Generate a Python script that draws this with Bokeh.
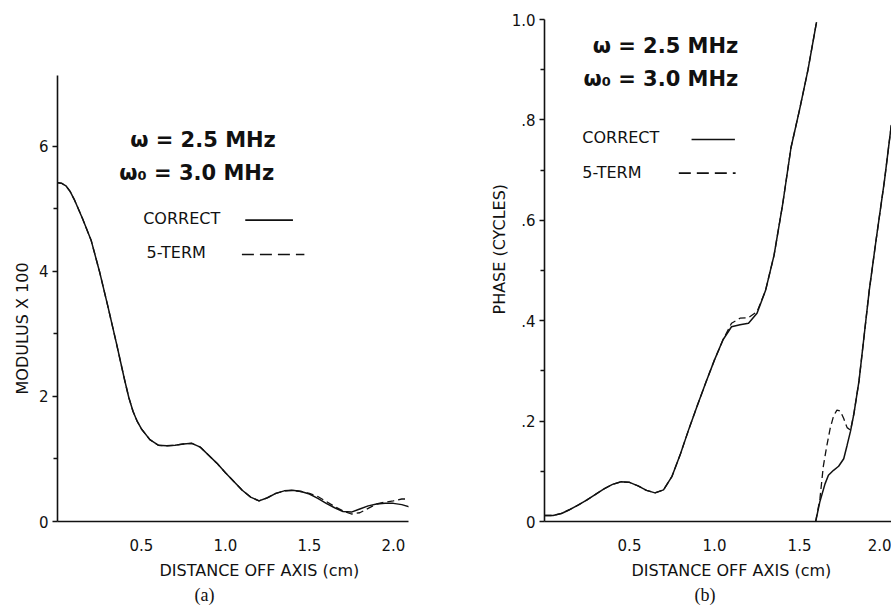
from bokeh.plotting import figure
from bokeh.layouts import row
from bokeh.models import Label, Arrow, FixedTicker, Range1d, CustomJSTickFormatter, Title
from bokeh.embed import file_html
from bokeh.resources import INLINE

# ---------------- data: panel (a) modulus ----------------
dist_a = [0, 0.025, 0.05, 0.075, 0.1, 0.15, 0.2, 0.25, 0.3, 0.35, 0.4, 0.425, 0.45, 0.475,
          0.5, 0.55, 0.6, 0.65, 0.7, 0.75, 0.8, 0.85, 0.9, 0.95, 1.0, 1.05, 1.1, 1.15,
          1.2, 1.25, 1.3, 1.35, 1.4, 1.45, 1.5, 1.55, 1.6, 1.65, 1.7, 1.75, 1.8, 1.85,
          1.9, 1.95, 2.0, 2.05, 2.1]
modulus_correct = [5.42, 5.41, 5.37, 5.28, 5.15, 4.84, 4.50, 4.00, 3.44, 2.86, 2.26, 1.98,
                   1.76, 1.60, 1.48, 1.31, 1.22, 1.21, 1.22, 1.24, 1.25, 1.19, 1.06, 0.93,
                   0.78, 0.64, 0.50, 0.39, 0.33, 0.38, 0.45, 0.49, 0.50, 0.48, 0.44, 0.37,
                   0.29, 0.22, 0.16, 0.15, 0.20, 0.25, 0.28, 0.29, 0.29, 0.27, 0.23]
modulus_5term = [5.42, 5.41, 5.37, 5.28, 5.15, 4.84, 4.50, 4.00, 3.44, 2.86, 2.26, 1.98,
                 1.76, 1.60, 1.48, 1.31, 1.22, 1.21, 1.22, 1.24, 1.25, 1.19, 1.06, 0.93,
                 0.78, 0.64, 0.50, 0.39, 0.33, 0.38, 0.45, 0.49, 0.50, 0.48, 0.45, 0.40,
                 0.32, 0.24, 0.17, 0.12, 0.14, 0.21, 0.28, 0.31, 0.33, 0.36, 0.36]

# ---------------- data: panel (b) phase ----------------
dist_b1 = [0, 0.05, 0.1, 0.15, 0.2, 0.25, 0.3, 0.35, 0.4, 0.45, 0.5, 0.55, 0.6, 0.65,
           0.7, 0.75, 0.8, 0.85, 0.9, 0.95, 1.0, 1.05, 1.1, 1.15, 1.2, 1.25, 1.3, 1.35,
           1.4, 1.45, 1.5, 1.55, 1.6]
phase1_correct = [0.012, 0.012, 0.016, 0.024, 0.033, 0.043, 0.054, 0.065, 0.074, 0.079,
                  0.078, 0.071, 0.062, 0.057, 0.063, 0.090, 0.135, 0.185, 0.232, 0.278,
                  0.322, 0.362, 0.388, 0.392, 0.395, 0.415, 0.46, 0.53, 0.63, 0.745,
                  0.82, 0.90, 0.995]
phase1_5term = [0.012, 0.012, 0.016, 0.024, 0.033, 0.043, 0.054, 0.065, 0.074, 0.079,
                0.078, 0.071, 0.062, 0.057, 0.063, 0.090, 0.135, 0.185, 0.232, 0.278,
                0.322, 0.362, 0.395, 0.405, 0.406, 0.418, 0.46, 0.53, 0.63, 0.745,
                0.82, 0.90, 0.995]
dist_b2 = [1.595, 1.62, 1.65, 1.67, 1.70, 1.73, 1.76, 1.78, 1.80, 1.82, 1.85, 1.88,
           1.91, 1.95, 2.0, 2.04]
phase2_correct = [0.0, 0.04, 0.075, 0.092, 0.102, 0.110, 0.125, 0.152, 0.180, 0.215,
                  0.28, 0.37, 0.46, 0.56, 0.68, 0.79]
dist_b2_5term = [1.595, 1.62, 1.64, 1.66, 1.68, 1.70, 1.72, 1.74, 1.76, 1.78, 1.80,
                 1.82, 1.85, 1.88, 1.91, 1.95, 2.0, 2.04]
phase2_5term = [0.0, 0.045, 0.11, 0.15, 0.185, 0.21, 0.222, 0.22, 0.205, 0.187, 0.182,
                0.215, 0.28, 0.37, 0.46, 0.56, 0.68, 0.79]

FONT = "DejaVu Sans"
SERIF = "Liberation Serif"
INK = "#111111"
H = 605
FRAME_BOTTOM = 521


def style(p):
    p.grid.visible = False
    p.outline_line_color = None
    p.background_fill_color = "white"
    p.border_fill_color = "white"
    for ax in (p.xaxis[0], p.yaxis[0]):
        ax.axis_line_color = INK
        ax.axis_line_width = 1.6
        ax.major_label_text_font = FONT
        ax.major_label_text_font_size = "15px"
        ax.major_label_text_color = INK
    xa = p.xaxis[0]
    xa.major_tick_out = 0
    xa.major_tick_in = 0
    xa.minor_tick_out = 0
    xa.minor_tick_in = 0
    xa.major_label_standoff = 17
    xa.formatter = CustomJSTickFormatter(code="return tick.toFixed(1);")
    xa.ticker = FixedTicker(ticks=[0.5, 1.0, 1.5, 2.0])
    ya = p.yaxis[0]
    ya.major_tick_out = 5
    ya.major_tick_in = 0
    ya.minor_tick_out = 4
    ya.minor_tick_in = 0
    ya.major_tick_line_color = INK
    ya.minor_tick_line_color = INK
    ya.major_tick_line_width = 1.4
    ya.minor_tick_line_width = 1.4
    ya.major_label_standoff = 4


def text(p, x, y, s, size="15px", align="left", font=FONT, style_="normal"):
    p.add_layout(Label(x=x, y=y, text=s, text_font=font, text_font_size=size,
                       text_align=align, text_baseline="middle",
                       text_color=INK, text_font_style=style_))


def title(p, s, side, offset, standoff, size="16px", font=FONT):
    p.add_layout(Title(text=s, align="left", offset=offset, standoff=standoff,
                       text_font=font, text_font_size=size, text_font_style="normal",
                       text_color=INK), side)


# ---------------- panel (a) ----------------
pa = figure(width=453, height=H, x_range=Range1d(0, 2.09), y_range=Range1d(0, 8.03),
            output_backend="svg", toolbar_location=None,
            min_border_left=57, min_border_right=45, min_border_top=19,
            min_border_bottom=H - FRAME_BOTTOM)
style(pa)
pa.yaxis[0].bounds = (0, 7.14)
pa.yaxis[0].ticker = FixedTicker(ticks=[0, 2, 4, 6], minor_ticks=[1, 3, 5])
pa.line(dist_a, modulus_correct, line_color=INK, line_width=1.5)
pa.line(dist_a, modulus_5term, line_color=INK, line_width=1.3, line_dash="7 4")

text(pa, 1.30, 6.11, "ω = 2.5 MHz", size="21px", align="right", style_="bold")
text(pa, 1.29, 5.58, "ω₀ = 3.0 MHz", size="21px", align="right", style_="bold")
text(pa, 0.51, 4.84, "CORRECT", size="16px")
text(pa, 0.53, 4.30, "5-TERM", size="16px")
pa.add_layout(Arrow(end=None, x_start=1.118, y_start=4.82, x_end=1.402, y_end=4.82,
                    line_color=INK, line_width=1.6))
pa.add_layout(Arrow(end=None, x_start=1.098, y_start=4.27, x_end=1.47, y_end=4.27,
                    line_color=INK, line_width=1.6, line_dash="12 6"))
title(pa, "DISTANCE OFF AXIS (cm)", "below", 102, 10)
title(pa, "(a)", "below", 137, -4, size="18px", font=SERIF)
title(pa, "MODULUS X 100", "left", 127, 7)

# ---------------- panel (b) ----------------
pb = figure(width=438, height=H, x_range=Range1d(0, 2.041), y_range=Range1d(0, 1.0),
            output_backend="svg", toolbar_location=None,
            min_border_left=91, min_border_right=0, min_border_top=19,
            min_border_bottom=H - FRAME_BOTTOM)
style(pb)
pb.yaxis[0].ticker = FixedTicker(ticks=[0, 0.2, 0.4, 0.6, 0.8, 1.0],
                                 minor_ticks=[0.1, 0.3, 0.5, 0.7, 0.9])
pb.yaxis[0].formatter = CustomJSTickFormatter(
    code="if (tick == 0) return '0'; if (tick >= 1) return tick.toFixed(1); "
         "return tick.toFixed(1).replace(/^0/, '');")
pb.line(dist_b1, phase1_correct, line_color=INK, line_width=1.5)
pb.line(dist_b1, phase1_5term, line_color=INK, line_width=1.3, line_dash="7 4")
pb.line(dist_b2, phase2_correct, line_color=INK, line_width=1.5)
pb.line(dist_b2_5term, phase2_5term, line_color=INK, line_width=1.3, line_dash="7 4")

text(pb, 1.14, 0.948, "ω = 2.5 MHz", size="21px", align="right", style_="bold")
text(pb, 1.14, 0.882, "ω₀ = 3.0 MHz", size="21px", align="right", style_="bold")
text(pb, 0.222, 0.764, "CORRECT", size="16px")
text(pb, 0.222, 0.695, "5-TERM", size="16px")
pb.add_layout(Arrow(end=None, x_start=0.865, y_start=0.761, x_end=1.12, y_end=0.761,
                    line_color=INK, line_width=1.6))
pb.add_layout(Arrow(end=None, x_start=0.79, y_start=0.694, x_end=1.124, y_end=0.694,
                    line_color=INK, line_width=1.6, line_dash="12 6"))
title(pb, "DISTANCE OFF AXIS (cm)", "below", 87, 10)
title(pb, "(b)", "below", 150, -4, size="18px", font=SERIF)
title(pb, "PHASE (CYCLES)", "left", 207, -1)

layout = row(pa, pb)
open("out.html", "w").write(file_html(layout, INLINE))
